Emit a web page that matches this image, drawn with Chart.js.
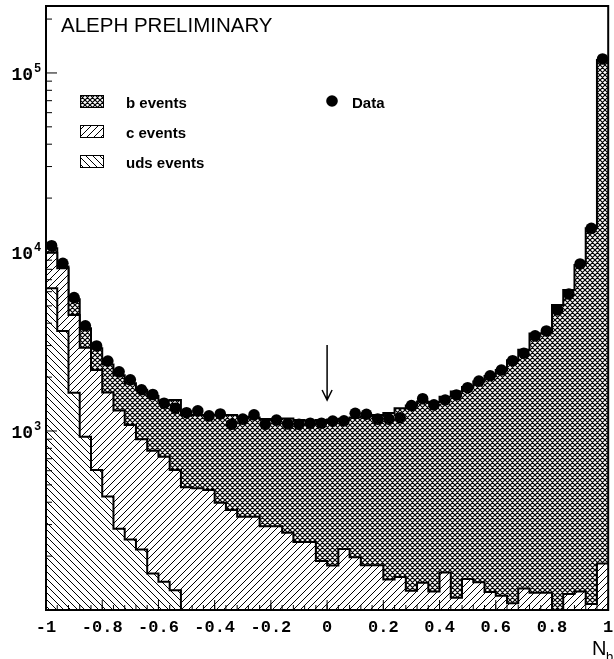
<!DOCTYPE html>
<html>
<head>
<meta charset="utf-8">
<script src="https://cdn.jsdelivr.net/npm/chart.js@4/dist/chart.umd.min.js"></script>
<style>
  html, body { margin: 0; padding: 0; background: #fff; }
  canvas { display: block; }
</style>
</head>
<body>
<canvas id="chart" width="614" height="659"></canvas>
<script>
'use strict';

// края бинов по N_b (50 бинов)
const binEdges = [
    -1.00, -0.96, -0.92, -0.88, -0.84, -0.80, -0.76, -0.72, -0.68, -0.64,
    -0.60, -0.56, -0.52, -0.48, -0.44, -0.40, -0.36, -0.32, -0.28, -0.24,
    -0.20, -0.16, -0.12, -0.08, -0.04, 0.00, 0.04, 0.08, 0.12, 0.16,
    0.20, 0.24, 0.28, 0.32, 0.36, 0.40, 0.44, 0.48, 0.52, 0.56,
    0.60, 0.64, 0.68, 0.72, 0.76, 0.80, 0.84, 0.88, 0.92, 0.96, 1.00,
];

// данные (точки)
const dataCounts = [
    10840, 8650, 5560, 3870, 2985, 2460, 2140, 1930, 1700, 1600,
    1430, 1340, 1265, 1295, 1215, 1245, 1090, 1165, 1230, 1090,
    1150, 1095, 1090, 1105, 1105, 1135, 1140, 1255, 1240, 1165,
    1165, 1185, 1385, 1515, 1400, 1490, 1590, 1745, 1900, 2035,
    2190, 2470, 2720, 3400, 3620, 4750, 5820, 8570, 13560, 119700,
];

// MC, накопленные уровни: uds, uds+c, uds+c+b
const udsLevel = [
    6270, 3620, 1637, 929, 605, 430, 284, 248, 218, 160,
    144, 129, 85, 75, 68, 60, 55, 50, 45, 42,
    38, 35, 32, 30, 28, 26, 24, 22, 21, 20,
    19, 18, 17, 16, 15, 15, 14, 14, 13, 13,
    12, 12, 12, 11, 11, 11, 10, 10, 10, 12,
];
const cLevel = [
    9900, 8110, 4450, 2920, 2190, 1640, 1300, 1080, 900, 776,
    719, 605, 485, 478, 468, 397, 362, 332, 332, 294,
    294, 270, 240, 240, 188, 177, 219, 197, 178, 178,
    148, 153, 128, 142, 127, 162, 117, 149, 143, 126,
    120, 109, 132, 125, 125, 92, 123, 127, 108, 182,
];
const bLevel = [
    10500, 8300, 5450, 3750, 2900, 2350, 2050, 1850, 1700, 1570,
    1480, 1490, 1230, 1230, 1230, 1230, 1228, 1200, 1190, 1165,
    1165, 1175, 1150, 1140, 1150, 1160, 1170, 1190, 1210, 1230,
    1260, 1340, 1390, 1460, 1450, 1555, 1660, 1760, 1890, 2030,
    2190, 2480, 2840, 3500, 3520, 5060, 6140, 8450, 13560, 118000,
];

const xTickValues = [-1, -0.8, -0.6, -0.4, -0.2, 0, 0.2, 0.4, 0.6, 0.8, 1];
const xTickLabels = ['-1', '-0.8', '-0.6', '-0.4', '-0.2', '0', '0.2', '0.4', '0.6', '0.8', '1'];
const yTickValues = [1e3, 1e4, 1e5];
const yTickExponents = ['3', '4', '5'];

// штриховки
function hatch(kind) {
    const p = kind === 'cross' ? 5 : 7;
    const c = document.createElement('canvas');
    c.width = p;
    c.height = p;
    const g = c.getContext('2d');
    g.fillStyle = '#fff';
    g.fillRect(0, 0, p, p);
    g.strokeStyle = '#000';
    g.lineWidth = kind === 'cross' ? 1.2 : 1;
    g.beginPath();
    for (let k = -p; k <= p; k += p) {
        if (kind === 'slash' || kind === 'cross') {
            g.moveTo(k, p);
            g.lineTo(k + p, 0);
        }
        if (kind === 'back' || kind === 'cross') {
            g.moveTo(k, 0);
            g.lineTo(k + p, p);
        }
    }
    g.stroke();
    return g.createPattern(c, 'repeat');
}

const ctx = document.getElementById('chart').getContext('2d');
const bPattern = hatch('cross');
const cPattern = hatch('slash');
const udsPattern = hatch('back');

function stepPoints(values) {
    let pts = values.map((v, i) => ({ x: binEdges[i], y: v }));
    pts.push({ x: binEdges[values.length], y: values[values.length - 1] });
    return pts;
}

const dataPoints = dataCounts.map((v, i) => ({
    x: (binEdges[i] + binEdges[i + 1]) / 2,
    y: v,
}));

function histDataset(label, values, pattern, order) {
    return {
        label: label,
        data: stepPoints(values),
        stepped: true,
        fill: 'start',
        backgroundColor: pattern,
        borderColor: '#000',
        borderWidth: 2,
        pointRadius: 0,
        order: order,
    };
}

// рамка, тики, подписи, легенда
const decorations = {
    id: 'decorations',
    afterDatasetsDraw(chart) {
        const c = chart.ctx;
        const a = chart.chartArea;
        const xs = chart.scales.x;
        const ys = chart.scales.y;
        c.save();
        c.strokeStyle = '#000';
        c.fillStyle = '#000';

        // тики оси X (внутрь)
        c.lineWidth = 1;
        c.beginPath();
        for (let e of binEdges) {
            let x = xs.getPixelForValue(e);
            c.moveTo(x, a.bottom);
            c.lineTo(x, a.bottom - 5);
        }
        for (let v of xTickValues) {
            let x = xs.getPixelForValue(v);
            c.moveTo(x, a.bottom);
            c.lineTo(x, a.bottom - 10);
        }
        // тики оси Y
        for (let d = 100; d <= ys.max; d *= 10) {
            for (let m = 1; m <= 9; m++) {
                let v = m * d;
                if (v > ys.max) break;
                let y = ys.getPixelForValue(v);
                c.moveTo(a.left, y);
                c.lineTo(a.left + (m === 1 ? 11 : 6), y);
            }
        }
        c.stroke();

        // рамка
        c.lineWidth = 2;
        c.strokeRect(a.left, a.top, a.right - a.left, a.bottom - a.top);

        // подписи X
        c.font = 'bold 17px "Liberation Mono"';
        c.textAlign = 'center';
        c.textBaseline = 'alphabetic';
        xTickValues.forEach((v, i) => {
            let x = xs.getPixelForValue(v);
            let w = c.measureText(xTickLabels[i]).width;
            if (x + w / 2 > chart.width) x = chart.width - w / 2;
            c.fillText(xTickLabels[i], x, 632);
        });

        // подписи Y: 10 и степень
        yTickValues.forEach((v, i) => {
            let y = ys.getPixelForValue(v);
            c.font = 'bold 18px "Liberation Mono"';
            c.textAlign = 'right';
            c.fillText('10', 33, y + 7);
            c.font = 'bold 12px "Liberation Mono"';
            c.textAlign = 'left';
            c.fillText(yTickExponents[i], 34, y - 1);
        });

        // название оси X
        c.font = '20px "Liberation Sans"';
        c.textAlign = 'left';
        c.fillText('N', 592, 655);
        c.font = '13px "Liberation Sans"';
        c.fillText('b', 606, 661);

        // заголовок
        c.font = '20.5px "Liberation Sans"';
        c.fillText('ALEPH PRELIMINARY', 61, 32);

        // стрелка у N_b = 0
        let ax = xs.getPixelForValue(0);
        let yTop = ys.getPixelForValue(3020);
        let yTip = ys.getPixelForValue(1490);
        c.lineWidth = 1.5;
        c.beginPath();
        c.moveTo(ax, yTop);
        c.lineTo(ax, yTip);
        c.moveTo(ax - 5, yTip - 10);
        c.lineTo(ax, yTip);
        c.lineTo(ax + 5, yTip - 10);
        c.stroke();

        // легенда
        const items = [
            ['b events', bPattern, 95],
            ['c events', cPattern, 125],
            ['uds events', udsPattern, 155],
        ];
        c.font = 'bold 15px "Liberation Sans"';
        c.lineWidth = 1;
        for (let [label, pattern, y] of items) {
            c.fillStyle = pattern;
            c.fillRect(80, y, 23, 12);
            c.strokeRect(80.5, y + 0.5, 23, 12);
            c.fillStyle = '#000';
            c.fillText(label, 126, y + 12.5);
        }
        c.beginPath();
        c.arc(332, 101, 5.8, 0, Math.PI * 2);
        c.fill();
        c.fillText('Data', 352, 107.5);

        c.restore();
    },
};

new Chart(ctx, {
    type: 'line',
    data: {
        datasets: [
            {
                label: 'Data',
                type: 'scatter',
                data: dataPoints,
                showLine: false,
                pointRadius: 5.8,
                pointBackgroundColor: '#000',
                pointBorderWidth: 0,
                order: 0,
            },
            histDataset('uds events', udsLevel, udsPattern, 1),
            histDataset('c events', cLevel, cPattern, 2),
            histDataset('b events', bLevel, bPattern, 3),
        ],
    },
    options: {
        responsive: false,
        animation: false,
        devicePixelRatio: 1,
        layout: { padding: { left: 46, right: 1, top: 6, bottom: 49 } },
        scales: {
            x: { type: 'linear', min: -1, max: 1, display: false },
            y: { type: 'logarithmic', min: 100, max: 236600, display: false },
        },
        plugins: {
            legend: { display: false },
            tooltip: { enabled: false },
        },
    },
    plugins: [decorations],
});
</script>
</body>
</html>
